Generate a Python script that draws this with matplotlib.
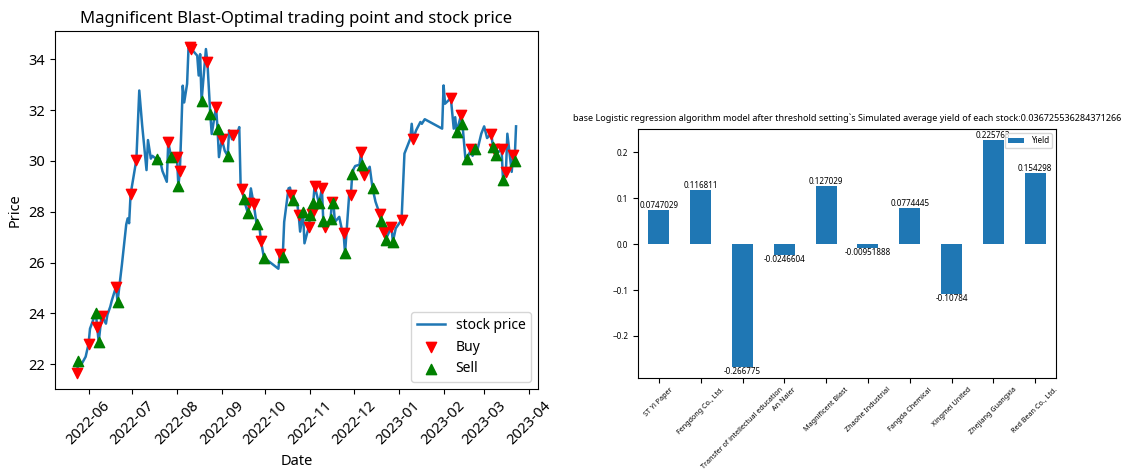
import numpy as np
import pandas as pd
import matplotlib
matplotlib.use('Agg')
import matplotlib.pyplot as plt
import matplotlib.dates as mdates

plt.rcParams['font.family'] = ['Noto Sans', 'DejaVu Sans']

# stock price
price_dates = ['2022-05-24', '2022-05-25', '2022-05-27', '2022-05-30', '2022-06-01', '2022-06-02',
               '2022-06-06', '2022-06-07', '2022-06-08', '2022-06-10', '2022-06-13', '2022-06-14',
               '2022-06-16', '2022-06-17', '2022-06-20', '2022-06-21', '2022-06-24', '2022-06-27',
               '2022-06-28', '2022-06-29', '2022-06-30', '2022-07-04', '2022-07-06', '2022-07-08',
               '2022-07-11', '2022-07-12', '2022-07-14', '2022-07-15', '2022-07-18', '2022-07-20',
               '2022-07-22', '2022-07-25', '2022-07-26', '2022-07-28', '2022-08-01', '2022-08-02',
               '2022-08-03', '2022-08-04', '2022-08-05', '2022-08-06', '2022-08-08', '2022-08-09',
               '2022-08-10', '2022-08-11', '2022-08-15', '2022-08-16', '2022-08-17', '2022-08-18',
               '2022-08-21', '2022-08-22', '2022-08-24', '2022-08-25', '2022-08-28', '2022-08-29',
               '2022-08-30', '2022-09-01', '2022-09-03', '2022-09-05', '2022-09-06', '2022-09-08',
               '2022-09-09', '2022-09-12', '2022-09-13', '2022-09-14', '2022-09-15', '2022-09-16',
               '2022-09-19', '2022-09-20', '2022-09-21', '2022-09-23', '2022-09-25', '2022-09-27',
               '2022-09-28', '2022-09-30', '2022-10-10', '2022-10-11', '2022-10-13', '2022-10-14',
               '2022-10-17', '2022-10-18', '2022-10-19', '2022-10-20', '2022-10-23', '2022-10-24',
               '2022-10-25', '2022-10-27', '2022-10-28', '2022-10-31', '2022-11-01', '2022-11-02',
               '2022-11-03', '2022-11-04', '2022-11-07', '2022-11-08', '2022-11-09', '2022-11-10',
               '2022-11-11', '2022-11-14', '2022-11-15', '2022-11-16', '2022-11-17', '2022-11-18',
               '2022-11-21', '2022-11-23', '2022-11-24', '2022-11-25', '2022-11-28', '2022-11-29',
               '2022-11-30', '2022-12-01', '2022-12-02', '2022-12-05', '2022-12-06', '2022-12-07',
               '2022-12-08', '2022-12-12', '2022-12-14', '2022-12-16', '2022-12-19', '2022-12-20',
               '2022-12-22', '2022-12-23', '2022-12-27', '2022-12-28', '2022-12-30', '2023-01-03',
               '2023-01-05', '2023-01-09', '2023-01-10', '2023-01-11', '2023-01-13', '2023-01-16',
               '2023-01-17', '2023-01-19', '2023-01-31', '2023-02-01', '2023-02-02', '2023-02-06',
               '2023-02-08', '2023-02-09', '2023-02-10', '2023-02-13', '2023-02-14', '2023-02-16',
               '2023-02-17', '2023-02-20', '2023-02-21', '2023-02-23', '2023-02-24', '2023-02-27',
               '2023-03-01', '2023-03-03', '2023-03-06', '2023-03-07', '2023-03-08', '2023-03-09',
               '2023-03-13', '2023-03-14', '2023-03-16', '2023-03-17', '2023-03-20', '2023-03-21',
               '2023-03-22', '2023-03-23']
prices = [21.67, 22.12, 21.99, 22.30, 22.80, 23.40,
          24.03, 23.46, 22.87, 23.92, 23.60, 23.95,
          24.27, 24.50, 25.06, 24.45, 25.91, 27.50,
          27.74, 27.55, 28.68, 30.05, 32.77, 31.40,
          29.64, 30.82, 30.09, 30.20, 30.07, 30.10,
          29.60, 29.18, 30.74, 30.15, 30.15, 29.02,
          29.59, 31.20, 32.96, 32.30, 33.03, 34.47,
          34.47, 34.40, 34.14, 33.36, 34.20, 32.37,
          34.40, 33.90, 31.85, 31.06, 32.12, 31.27,
          30.15, 30.85, 30.40, 30.20, 31.20, 30.85,
          31.03, 31.15, 31.33, 28.90, 28.88, 28.52,
          27.94, 28.33, 28.92, 28.30, 27.50, 27.35,
          26.85, 26.20, 25.76, 26.33, 26.24, 27.60,
          28.92, 28.95, 28.66, 28.45, 28.33, 27.87,
          27.22, 28.00, 26.76, 27.41, 27.87, 27.90,
          28.33, 29.02, 28.33, 28.60, 28.92, 27.64,
          27.41, 27.60, 27.72, 28.40, 28.33, 27.60,
          27.80, 27.25, 27.15, 26.37, 28.79, 28.66,
          29.50, 29.70, 29.80, 29.85, 30.35, 29.83,
          29.44, 29.77, 28.92, 28.40, 27.90, 27.64,
          27.22, 26.90, 27.41, 26.82, 27.35, 27.68,
          30.29, 30.87, 31.46, 30.85, 31.20, 31.53,
          31.46, 31.64, 31.27, 32.97, 32.25, 32.47,
          31.27, 31.72, 31.14, 31.79, 31.46, 30.12,
          30.07, 30.46, 30.20, 30.48, 30.35, 31.07,
          31.36, 30.90, 31.07, 30.55, 30.48, 30.25,
          30.48, 29.24, 29.57, 31.07, 29.57, 30.22,
          29.99, 31.36]

buy_dates = ['2022-05-24', '2022-06-01', '2022-06-07', '2022-06-10', '2022-06-20', '2022-06-30',
             '2022-07-04', '2022-07-26', '2022-08-01', '2022-08-03', '2022-08-10', '2022-08-11',
             '2022-08-22', '2022-08-28', '2022-09-01', '2022-09-09', '2022-09-15', '2022-09-20',
             '2022-09-23', '2022-09-28', '2022-10-11', '2022-10-19', '2022-10-24', '2022-10-31',
             '2022-11-02', '2022-11-04', '2022-11-09', '2022-11-11', '2022-11-16', '2022-11-24',
             '2022-11-29', '2022-12-06', '2022-12-08', '2022-12-19', '2022-12-22', '2022-12-27',
             '2023-01-03', '2023-01-11', '2023-02-06', '2023-02-13', '2023-02-20', '2023-03-06',
             '2023-03-08', '2023-03-13', '2023-03-16', '2023-03-21']
buy_prices = [21.67, 22.80, 23.46, 23.92, 25.06, 28.68,
              30.05, 30.74, 30.15, 29.59, 34.47, 34.40,
              33.90, 32.12, 30.85, 31.03, 28.88, 28.33,
              28.30, 26.85, 26.33, 28.66, 27.87, 27.41,
              27.90, 29.02, 28.92, 27.41, 28.40, 27.15,
              28.66, 30.35, 29.44, 27.90, 27.22, 27.41,
              27.68, 30.85, 32.47, 31.79, 30.46, 31.07,
              30.48, 30.48, 29.57, 30.22]

sell_dates = ['2022-05-25', '2022-06-06', '2022-06-08', '2022-06-21', '2022-07-18', '2022-07-28',
              '2022-08-02', '2022-08-18', '2022-08-24', '2022-08-29', '2022-09-05', '2022-09-16',
              '2022-09-19', '2022-09-25', '2022-09-30', '2022-10-13', '2022-10-20', '2022-10-27',
              '2022-11-01', '2022-11-03', '2022-11-07', '2022-11-10', '2022-11-15', '2022-11-17',
              '2022-11-25', '2022-11-30', '2022-12-07', '2022-12-14', '2022-12-20', '2022-12-23',
              '2022-12-28', '2023-02-10', '2023-02-14', '2023-02-17', '2023-02-23', '2023-03-07',
              '2023-03-09', '2023-03-14', '2023-03-22']
sell_prices = [22.12, 24.03, 22.87, 24.45, 30.07, 30.15,
               29.02, 32.37, 31.85, 31.27, 30.20, 28.52,
               27.94, 27.50, 26.20, 26.24, 28.45, 28.00,
               27.87, 28.33, 28.33, 27.64, 27.72, 28.33,
               26.37, 29.50, 29.83, 28.92, 27.64, 26.90,
               26.82, 31.14, 31.46, 30.07, 30.48, 30.55,
               30.25, 29.24, 29.99]

# simulated yield per stock
stocks = ['ST Yi Paper', 'Fengdong Co., Ltd.', 'Transfer of intellectual education', 'An Naier',
          'Magnificent Blast', 'Zhaohe Industrial', 'Fangda Chemical', 'Xingmei United',
          'Zhejiang Guangxia', 'Red Bean Co., Ltd.']
yields = [0.0747029, 0.116811, -0.266775, -0.0246604, 0.127029, -0.00951888, 0.0774445,
          -0.10784, 0.225763, 0.154298]

fig = plt.figure(figsize=(11.28, 4.73), dpi=100)

# left: price with trading points
ax1 = fig.add_axes([55/1128, 84/473, 483/1128, 358/473])
ax1.plot(pd.to_datetime(price_dates), prices, color='#1f77b4', lw=1.8, label='stock price')
ax1.scatter(pd.to_datetime(buy_dates), buy_prices, marker='v', color='red', s=55, label='Buy', zorder=3)
ax1.scatter(pd.to_datetime(sell_dates), sell_prices, marker='^', color='green', s=55, label='Sell', zorder=3)
ax1.xaxis.set_major_locator(mdates.MonthLocator())
ax1.xaxis.set_major_formatter(mdates.DateFormatter('%Y-%m'))
ax1.tick_params(labelsize=10.5)
plt.setp(ax1.get_xticklabels(), rotation=45)
ax1.set_title('Magnificent Blast-Optimal trading point and stock price', fontsize=12)
ax1.set_xlabel('Date', fontsize=10.5)
ax1.set_ylabel('Price', fontsize=10.5)
ax1.legend(loc='lower right', fontsize=10)

# right: yield bars
ax2 = fig.add_axes([638/1128, 95/473, 418/1128, 249/473])
x = np.arange(len(stocks))
bars = ax2.bar(x, yields, width=0.5, color='#1f77b4', label='Yield')
ax2.bar_label(bars, fmt='%g', fontsize=5.8)
ax2.set_xlim(-0.5, len(stocks) - 0.5)
ax2.set_xticks(x)
ax2.set_xticklabels(stocks, rotation=45, fontsize=5.2)
ax2.tick_params(axis='x', pad=2.5)
ax2.tick_params(axis='y', labelsize=5.8)
ax2.legend(loc='upper right', fontsize=5.8)
ax2.set_title('base Logistic regression algorithm model after threshold setting`s Simulated average yield of each stock:0.036725536284371266',
              fontsize=6.5)

fig.savefig('out.png', dpi=100)
